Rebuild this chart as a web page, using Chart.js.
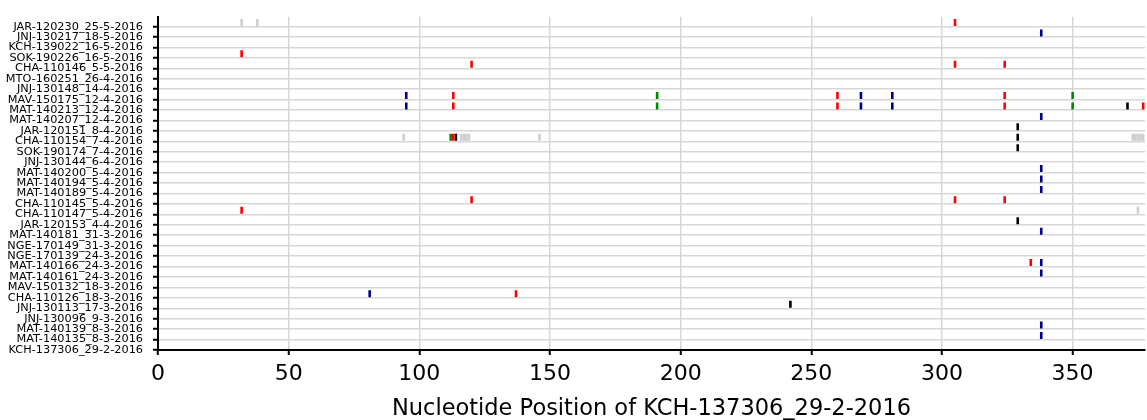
<!DOCTYPE html>
<html>
<head>
<meta charset="utf-8">
<script src="https://cdn.jsdelivr.net/npm/chart.js@4/dist/chart.umd.min.js"></script>
<style>
  body { margin: 0; background: #fff; }
  #wrap { width: 1147px; height: 420px; }
</style>
</head>
<body>
<div id="wrap"><canvas id="chart" width="1147" height="420"></canvas></div>
<script>
// sequences, top to bottom
const sequences = [
    'JAR-120230_25-5-2016', 'JNJ-130217_18-5-2016', 'KCH-139022_16-5-2016', 'SOK-190226_16-5-2016',
    'CHA-110146_5-5-2016', 'MTO-160251_26-4-2016', 'JNJ-130148_14-4-2016', 'MAV-150175_12-4-2016',
    'MAT-140213_12-4-2016', 'MAT-140207_12-4-2016', 'JAR-120151_8-4-2016', 'CHA-110154_7-4-2016',
    'SOK-190174_7-4-2016', 'JNJ-130144_6-4-2016', 'MAT-140200_5-4-2016', 'MAT-140194_5-4-2016',
    'MAT-140189_5-4-2016', 'CHA-110145_5-4-2016', 'CHA-110147_5-4-2016', 'JAR-120153_4-4-2016',
    'MAT-140181_31-3-2016', 'NGE-170149_31-3-2016', 'NGE-170139_24-3-2016', 'MAT-140166_24-3-2016',
    'MAT-140161_24-3-2016', 'MAV-150132_18-3-2016', 'CHA-110126_18-3-2016', 'JNJ-130113_17-3-2016',
    'JNJ-130096_9-3-2016', 'MAT-140139_8-3-2016', 'MAT-140135_8-3-2016', 'KCH-137306_29-2-2016'
];

// [sequence row from top, nucleotide position]
const redMarks = [[0, 305], [3, 32], [4, 120], [4, 305], [4, 324], [7, 113], [7, 260], [7, 324],
    [8, 113], [8, 260], [8, 324], [8, 377], [11, 113], [17, 120], [17, 305], [17, 324],
    [18, 32], [23, 334], [26, 137]];
const blueMarks = [[1, 338], [7, 95], [7, 269], [7, 281], [8, 95], [8, 269], [8, 281], [9, 338],
    [14, 338], [15, 338], [16, 338], [20, 338], [23, 338], [24, 338], [26, 81], [29, 338], [30, 338]];
const greenMarks = [[7, 191], [7, 350], [8, 191], [8, 350], [11, 112]];
const blackMarks = [[8, 371], [10, 329], [11, 114], [11, 329], [12, 329], [19, 329], [27, 242]];
const gapMarks = [[0, 32], [0, 38], [11, 94], [11, 116], [11, 117], [11, 118], [11, 119], [11, 146],
    [11, 373], [11, 374], [11, 375], [11, 376], [11, 377], [18, 375]];

const xTicks = [0, 50, 100, 150, 200, 250, 300, 350];
const xMax = 377.7;
const xTitle = 'Nucleotide Position of KCH-137306_29-2-2016';

const nRows = sequences.length;
const FONT = "'DejaVu Sans', sans-serif";

function toPoints(marks) {
    // tick sits just above its sequence line
    return marks.map(m => ({ x: m[1], y: (nRows - 1 - m[0]) + 0.39 }));
}

function markSet(marks, color) {
    return {
        data: toPoints(marks),
        pointStyle: 'line',
        rotation: 90,
        radius: 3.5,
        borderWidth: 2.6,
        borderColor: color,
        backgroundColor: color
    };
}

const ctx = document.getElementById('chart').getContext('2d');
new Chart(ctx, {
    type: 'scatter',
    data: {
        datasets: [
            markSet(gapMarks, '#cfcfcf'),
            markSet(greenMarks, '#008800'),
            markSet(blueMarks, '#000090'),
            markSet(redMarks, '#ff0000'),
            markSet(blackMarks, '#000000')
        ]
    },
    options: {
        responsive: false,
        animation: false,
        devicePixelRatio: 1,
        layout: { autoPadding: false, padding: { top: 11, right: 2, left: 0, bottom: 0 } },
        plugins: {
            legend: { display: false },
            tooltip: { enabled: false }
        },
        scales: {
            x: {
                type: 'linear',
                min: 0,
                max: xMax,
                afterFit: s => { s.height = 70; },
                afterBuildTicks: s => { s.ticks = xTicks.map(v => ({ value: v })); },
                border: { color: '#000', width: 2 },
                grid: { color: '#d6d6d6', lineWidth: 1.5, tickColor: '#000', tickWidth: 2, tickLength: 5 },
                ticks: { color: '#000', font: { family: FONT, size: 22 }, padding: 6, maxRotation: 0 },
                title: {
                    display: true,
                    text: xTitle,
                    color: '#000',
                    font: { family: FONT, size: 22.5 },
                    padding: { top: 0, bottom: -3 }
                }
            },
            y: {
                type: 'linear',
                min: 0,
                max: nRows - 1 + 0.94,
                afterFit: s => { s.width = 158; },
                afterBuildTicks: s => { s.ticks = sequences.map((_, i) => ({ value: i })); },
                border: { color: '#000', width: 2 },
                grid: { color: '#d6d6d6', lineWidth: 1.5, tickColor: '#000', tickWidth: 2, tickLength: 5 },
                ticks: {
                    color: '#000',
                    font: { family: FONT, size: 11.3 },
                    padding: 10,
                    autoSkip: false,
                    callback: v => sequences[nRows - 1 - v]
                }
            }
        }
    }
});
</script>
</body>
</html>
